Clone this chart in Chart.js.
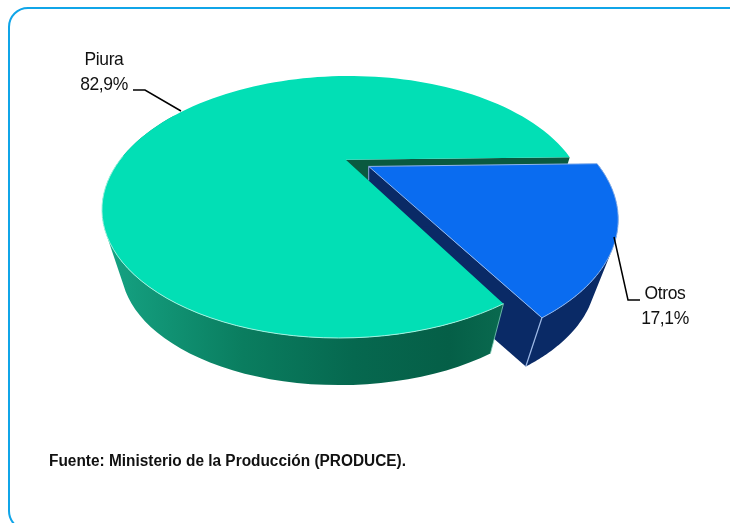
<!DOCTYPE html>
<html>
<head>
<meta charset="utf-8">
<style>
  html, body { margin: 0; padding: 0; background: #fff; overflow: hidden; }
  #wrap { position: relative; width: 730px; height: 523px; overflow: hidden; }
  #frame { position: absolute; left: 8px; top: 7px; width: 740px; height: 524px; box-sizing: border-box;
           border: 2px solid #10a5e8; border-radius: 20px; }
  canvas { position: absolute; left: 0; top: 0; }
  .lbl { position: absolute; font-family: "Liberation Sans", Arial, sans-serif; font-size: 17.5px; line-height: 22.3px;
         letter-spacing: -0.4px; color: #111; text-align: center; white-space: nowrap; transform: scale(1, 1.1); }
  #fuente { position: absolute; left: 49px; top: 452px; font-family: "Liberation Sans", Arial, sans-serif;
            font-weight: bold; font-size: 16px; color: #111; white-space: nowrap;
            transform: scaleX(0.963); transform-origin: left top; }
</style>
</head>
<body>
<div id="wrap">
  <div id="frame"></div>
  <canvas id="pie-chart" width="730" height="523"></canvas>
  <div class="lbl" id="lbl-0" style="left:64px;top:48.7px;width:80px"></div>
  <div class="lbl" id="lbl-1" style="left:625px;top:283px;width:80px"></div>
  <div id="fuente"></div>
</div>
<script src="https://cdn.jsdelivr.net/npm/chart.js@4/dist/chart.umd.min.js"></script>
<script>
var categories = ['Piura', 'Otros'];
var shares = [82.9, 17.1];
var topColors = ['#02dfb5', '#0a6cf0'];
var wallColors = ['#06684f', '#0a2a66'];
var source = 'Fuente: Ministerio de la Producción (PRODUCE).';

// screen ellipse of the pie top and the tilt of the view
var disc = { x: 344, y: 207, rx: 242, ry: 131, tilt: -0.36, shear: -5 };
// the underside is the top scaled towards a far point below
var under = { x: 340, y: 927, scale: 0.92 };

function project(u, v) {
    var d = 1 + disc.tilt * v,
        k = Math.sqrt(1 - disc.tilt * disc.tilt),
        py = (v + disc.tilt) / d;
    return { x: disc.x + disc.rx * u * k / d + disc.shear * py, y: disc.y + disc.ry * py };
}

function drop(p) {
    return { x: under.x + under.scale * (p.x - under.x), y: under.y + under.scale * (p.y - under.y) };
}

// apex and rim of one arc element, in screen pixels
function arcOutline(arc) {
    var mid = (arc.startAngle + arc.endAngle) / 2,
        off = (arc.options.offset || 0) / 4 / arc.outerRadius,
        ox = Math.cos(mid) * off,
        oy = Math.sin(mid) * off,
        rim = [],
        steps = 120;
    for (var i = 0; i <= steps; i++) {
        var a = arc.startAngle + (arc.endAngle - arc.startAngle) * i / steps;
        rim.push(project(ox + Math.cos(a), oy + Math.sin(a)));
    }
    return { apex: project(ox, oy), rim: rim };
}

function polygon(ctx, pts) {
    ctx.beginPath();
    pts.forEach(function (p, i) {
        if (i === 0) ctx.moveTo(p.x, p.y); else ctx.lineTo(p.x, p.y);
    });
    ctx.closePath();
}

function line(ctx, pts, color, width) {
    ctx.beginPath();
    pts.forEach(function (p, i) {
        if (i === 0) ctx.moveTo(p.x, p.y); else ctx.lineTo(p.x, p.y);
    });
    ctx.strokeStyle = color;
    ctx.lineWidth = width;
    ctx.stroke();
}

function sideWall(ctx, a, b, style) {
    polygon(ctx, [a, b, drop(b), drop(a)]);
    ctx.fillStyle = style;
    ctx.fill();
}

// all quads go in one path with the same winding, so there are no seams
function rimWall(ctx, rim, style) {
    ctx.beginPath();
    for (var i = 0; i < rim.length - 1; i++) {
        var q = [rim[i], rim[i + 1], drop(rim[i + 1]), drop(rim[i])],
            area = 0;
        for (var j = 0; j < 4; j++) {
            var n = q[(j + 1) % 4];
            area += q[j].x * n.y - n.x * q[j].y;
        }
        if (area < 0) q.reverse();
        ctx.moveTo(q[0].x, q[0].y);
        ctx.lineTo(q[1].x, q[1].y);
        ctx.lineTo(q[2].x, q[2].y);
        ctx.lineTo(q[3].x, q[3].y);
        ctx.closePath();
    }
    ctx.fillStyle = style;
    ctx.fill();
}

function topFace(ctx, o, color) {
    polygon(ctx, [o.apex].concat(o.rim));
    ctx.fillStyle = color;
    ctx.fill();
}

var pie3d = {
    id: 'pie3d',
    beforeDatasetDraw: function (chart) {
        var ctx = chart.ctx,
            arcs = chart.getDatasetMeta(0).data,
            green = arcOutline(arcs[0]),
            blue = arcOutline(arcs[1]),
            greenEnd = green.rim[green.rim.length - 1],
            greenStart = green.rim[0],
            blueStart = blue.rim[0],
            blueEnd = blue.rim[blue.rim.length - 1];

        ctx.save();

        // cut face of the big slice, mostly behind the other one
        sideWall(ctx, green.apex, greenEnd, '#0a5a40');

        // small slice
        sideWall(ctx, blue.apex, blueEnd, wallColors[1]);
        sideWall(ctx, blue.apex, blueStart, wallColors[1]);
        rimWall(ctx, blue.rim, wallColors[1]);
        topFace(ctx, blue, topColors[1]);
        line(ctx, [blue.apex].concat(blue.rim).concat([blue.apex]), '#8fb6ee', 1);
        line(ctx, [blueEnd, drop(blueEnd)], '#9db9e6', 1.2);
        line(ctx, [blue.apex, { x: blue.apex.x, y: blue.apex.y + 14 }], '#8fa8d8', 1);

        // big slice, only the front part of its wall shows
        var g = ctx.createLinearGradient(100, 0, 510, 0);
        g.addColorStop(0, '#16a585');
        g.addColorStop(0.35, '#0a7d5f');
        g.addColorStop(0.62, wallColors[0]);
        g.addColorStop(0.85, '#055f47');
        g.addColorStop(1, '#0a6b50');
        rimWall(ctx, green.rim.slice(0, 60), g);
        topFace(ctx, green, topColors[0]);
        line(ctx, green.rim.slice(0, 50), '#9ef2df', 1);
        line(ctx, [greenStart, drop(greenStart)], '#7fcfb8', 0.8);

        // leader lines
        line(ctx, [{ x: 133, y: 90 }, { x: 145, y: 90 }, { x: 181, y: 111 }], '#000', 1.5);
        line(ctx, [{ x: 614, y: 237 }, { x: 628, y: 300 }, { x: 640, y: 300 }], '#000', 1.5);

        ctx.restore();
        return false;
    }
};

categories.forEach(function (name, i) {
    document.getElementById('lbl-' + i).innerHTML =
        name + '<br>' + shares[i].toFixed(1).replace('.', ',') + '%';
});
document.getElementById('fuente').textContent = source;

new Chart(document.getElementById('pie-chart'), {
    type: 'pie',
    data: {
        labels: categories,
        datasets: [{
            data: shares,
            backgroundColor: topColors,
            borderWidth: 0,
            offset: [0, 98],
            hoverOffset: 0
        }]
    },
    options: {
        responsive: false,
        animation: false,
        rotation: 150.2,
        layout: { padding: 0 },
        plugins: { legend: { display: false }, tooltip: { enabled: false } }
    },
    plugins: [pie3d]
});
</script>
</body>
</html>
